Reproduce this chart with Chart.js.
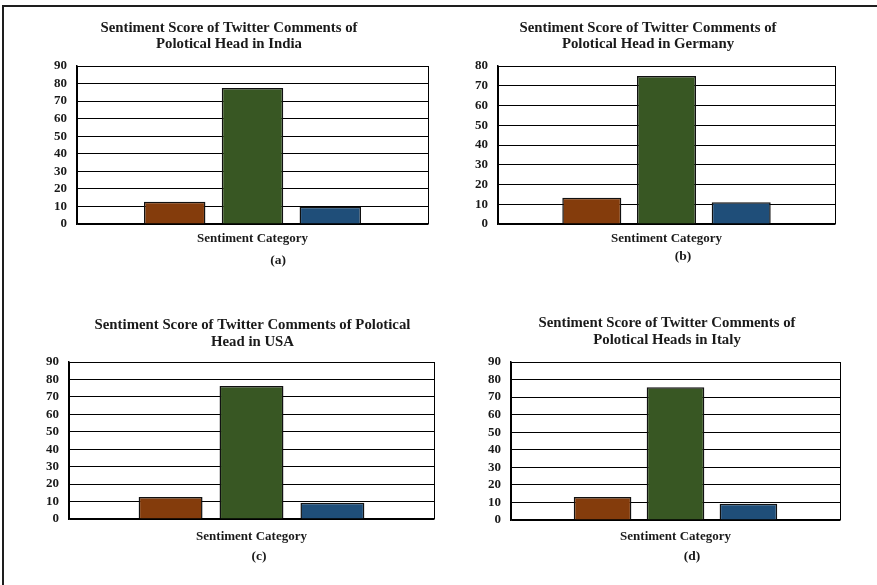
<!DOCTYPE html>
<html>
<head>
<meta charset="utf-8">
<script src="https://cdn.jsdelivr.net/npm/chart.js@4.4.1/dist/chart.umd.min.js"></script>
<style>
  html, body { margin: 0; padding: 0; background: #fff; }
  body { width: 877px; height: 585px; position: relative; overflow: hidden; }
  #frame { position: absolute; left: 2px; top: 5px; width: 877px; height: 590px;
           border-left: 2px solid #1e1e1e; border-top: 2px solid #1e1e1e; }
  canvas { position: absolute; }
</style>
</head>
<body>
<div id="frame"></div>
<canvas id="cA"></canvas>
<canvas id="cB"></canvas>
<canvas id="cC"></canvas>
<canvas id="cD"></canvas>
<script>
// ---------- data ----------
const categories = ['Sentiment Category'];
const seriesNames = ['Negative', 'Positive', 'Neutral'];
const indiaScores   = [12.7, 77.4, 9.8];
const germanyScores = [13.3, 75.0, 11.0];
const usaScores     = [12.6, 76.3, 9.3];
const italyScores   = [13.1, 75.6, 9.3];
const axisMax = [90, 80, 90, 90];
const axisStep = 10;
const panelTitles = [
  ['Sentiment Score of Twitter Comments of', 'Polotical Head in India'],
  ['Sentiment Score of Twitter Comments of', 'Polotical Head in Germany'],
  ['Sentiment Score of Twitter Comments of Polotical', 'Head in USA'],
  ['Sentiment Score of Twitter Comments of', 'Polotical Heads in Italy']
];
const panelCaptions = ['(a)', '(b)', '(c)', '(d)'];

// ---------- style ----------
const seriesColors = ['#843C0C', '#385723', '#1F4E79'];
const serif = '"Liberation Serif", "Times New Roman", serif';

// layout (page coordinates)
const layouts = [
  { id: 'cA', canvas: [5, 7, 435, 283],   plot: [77, 66, 428, 224],  title: [229, 28, 16],   tickPad: 7,  caption: [278, 261] },
  { id: 'cB', canvas: [440, 7, 437, 283], plot: [498, 66, 835, 224], title: [648, 28, 16],   tickPad: 7,  caption: [683, 257] },
  { id: 'cC', canvas: [5, 290, 435, 295], plot: [69, 362, 434, 519], title: [252.5, 325, 17], tickPad: 10, caption: [259, 557] },
  { id: 'cD', canvas: [440, 290, 437, 295], plot: [511, 362, 840, 520], title: [667, 323, 17], tickPad: 9, caption: [692, 557] }
];
const allScores = [indiaScores, germanyScores, usaScores, italyScores];

layouts.forEach((lay, i) => {
  const [cx, cy, cw, ch] = lay.canvas;
  const [L, T, R, B] = lay.plot;
  const cv = document.getElementById(lay.id);
  cv.width = cw; cv.height = ch;
  cv.style.left = cx + 'px'; cv.style.top = cy + 'px';
  cv.style.width = cw + 'px'; cv.style.height = ch + 'px';

  const textPlugin = {
    id: 'panelText' + i,
    afterDraw(chart) {
      const ctx = chart.ctx;
      ctx.save();
      ctx.fillStyle = '#1a1a1a';
      ctx.textAlign = 'center';
      ctx.textBaseline = 'middle';
      ctx.font = 'bold 14.8px ' + serif;
      const [tx, ty, lh] = lay.title;
      panelTitles[i].forEach((line, k) => {
        ctx.fillText(line, tx - cx, ty - cy + k * lh);
      });
      ctx.font = 'bold 13.5px ' + serif;
      ctx.fillText(panelCaptions[i], lay.caption[0] - cx, lay.caption[1] - cy);
      ctx.restore();
    }
  };

  new Chart(cv, {
    type: 'bar',
    data: {
      labels: categories,
      datasets: seriesNames.map((name, k) => ({
        label: name,
        data: [allScores[i][k]],
        backgroundColor: seriesColors[k],
        borderColor: '#111',
        borderWidth: 1.5,
        categoryPercentage: 0.665,
        barPercentage: 0.79
      }))
    },
    options: {
      responsive: false,
      animation: false,
      devicePixelRatio: 1,
      layout: { padding: { top: T - cy, left: 0, right: cx + cw - R, bottom: 0 } },
      plugins: { legend: { display: false }, title: { display: false }, tooltip: { enabled: false } },
      scales: {
        x: {
          afterFit(scale) { scale.height = (cy + ch) - B; },
          grid: { color: '#000', lineWidth: 1, drawTicks: false },
          border: { color: '#000', width: 1.5 },
          ticks: { color: '#1a1a1a', padding: lay.tickPad, font: { family: serif, size: 13, weight: 'bold' } }
        },
        y: {
          min: 0, max: axisMax[i],
          afterFit(scale) { scale.width = L - cx; },
          grid: { color: '#000', lineWidth: 1, drawTicks: false },
          border: { color: '#000', width: 1.5 },
          ticks: { stepSize: axisStep, autoSkip: false, color: '#1a1a1a', padding: 10, font: { family: serif, size: 13, weight: 'bold' } }
        }
      }
    },
    plugins: [textPlugin]
  });
});
</script>
</body>
</html>
